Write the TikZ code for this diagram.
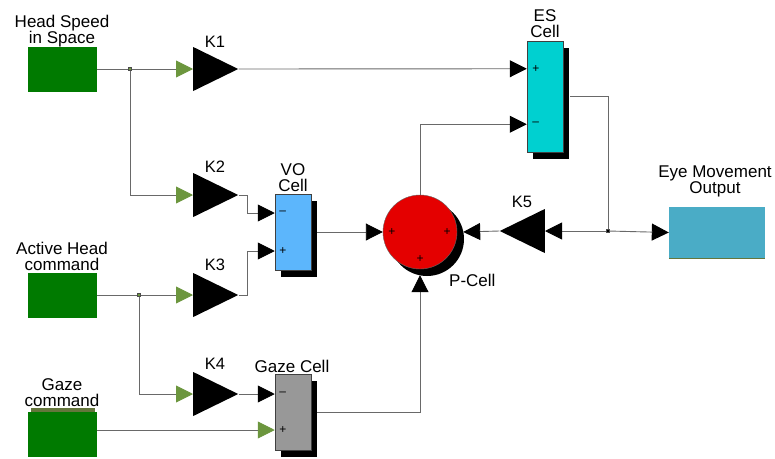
\documentclass[tikz,border=0pt]{standalone}
\usepackage{fontspec}
\setmainfont{Liberation Sans}
\usetikzlibrary{arrows.meta,shapes.geometric,shadows}

\definecolor{srcgreen}{RGB}{0,122,0}
\definecolor{portgreen}{RGB}{108,150,62}
\definecolor{stripolive}{RGB}{100,118,60}
\definecolor{voblue}{RGB}{92,182,252}
\definecolor{escyan}{RGB}{0,208,208}
\definecolor{eyeblue}{RGB}{74,172,198}
\definecolor{pred}{RGB}{228,0,0}
\definecolor{gazegray}{RGB}{152,152,152}
\definecolor{wiregray}{RGB}{105,105,105}

\begin{document}
\begin{tikzpicture}[x=1pt, y=-1pt,
    lbl/.style={font=\fontsize{17}{16}\selectfont, align=center, inner sep=0pt},
    klbl/.style={font=\fontsize{16.5}{16}\selectfont, inner sep=0pt},
    sgn/.style={font=\fontsize{12}{12}\selectfont, inner sep=0pt},
    src/.style={fill=srcgreen, minimum width=69pt, minimum height=45pt, inner sep=0pt},
    cell/.style={draw=black!75, line width=0.5pt, minimum width=36pt, inner sep=0pt,
      drop shadow={shadow xshift=6pt, shadow yshift=-7pt, opacity=1, fill=black}},
    gain/.style={isosceles triangle, isosceles triangle stretches, fill=black,
      minimum width=44pt, minimum height=45pt, inner sep=0pt},
    dot/.style={draw=black!70, fill=#1, minimum size=3pt, inner sep=0pt},
    wire/.style={draw=wiregray, line width=0.9pt},
    arr/.style={wire, -{Triangle[length=17pt, width=17pt, color=black]}},
    garr/.style={wire, -{Triangle[length=17pt, width=17pt, color=portgreen]}}]
  \useasboundingbox (0,0) rectangle (775,458);

  % sources
  \node[src] (hss) at (62.5,69) {};
  \node[src] (ahc) at (62.5,295) {};
  \fill[stripolive] (31,408) rectangle (95,412);
  \node[src] (gzc) at (62.5,434) {};
  \node[lbl, anchor=south] (hsslbl) at (62,47.5) {Head Speed\\in Space};
  \node[lbl, anchor=south] (ahclbl) at (62,270.5) {Active Head\\command};
  \node[lbl, anchor=south] (gzclbl) at (62,406.5) {Gaze\\command};

  % gains
  \node[gain, anchor=west] (k1) at (193,69) {};
  \node[gain, anchor=west] (k2) at (193,195) {};
  \node[gain, anchor=west] (k3) at (193,295) {};
  \node[gain, anchor=west] (k4) at (193,394) {};
  \node[gain, shape border rotate=180, anchor=east] (k5) at (545,231) {};
  \node[klbl, anchor=base] (k1lbl) at (215,47.5) {K1};
  \node[klbl, anchor=base] (k2lbl) at (215,172) {K2};
  \node[klbl, anchor=base] (k3lbl) at (215,270) {K3};
  \node[klbl, anchor=base] (k4lbl) at (215,369) {K4};
  \node[klbl, anchor=base] (k5lbl) at (522,207.5) {K5};

  % cells
  \node[cell, fill=voblue, minimum height=76pt] (vo) at (293,232) {};
  \node[cell, fill=gazegray, minimum height=76pt] (gz) at (293,412) {};
  \node[cell, fill=escyan, minimum height=111pt] (es) at (545,96.5) {};
  \node[circle, draw=black!60, line width=0.4pt, fill=pred, minimum size=74pt, inner sep=0pt,
    drop shadow={shadow xshift=7pt, shadow yshift=-7pt, opacity=1, fill=black}] (pc) at (420,232) {};
  \node[fill=eyeblue, minimum width=96pt, minimum height=51pt, inner sep=0pt] (eye) at (717,232.5) {};
  \draw[stripolive, line width=1pt] (eye.south west) -- (eye.south east);
  \node[lbl, anchor=south] (volbl) at (293,191.5) {VO\\Cell};
  \node[lbl, anchor=south] (eslbl) at (545,37.5) {ES\\Cell};
  \node[lbl, anchor=base] (gzlbl) at (292,372) {Gaze Cell};
  \node[lbl, anchor=base west] (pclbl) at (449,286) {P-Cell};
  \node[lbl, anchor=south] (eyelbl) at (715,197) {Eye Movement\\Output};

  % port signs
  \node[sgn] at ([xshift=8pt, yshift=19pt]vo.west) {–};
  \node[sgn] at ([xshift=8pt, yshift=-19pt]vo.west) {+};
  \node[sgn] at ([xshift=8pt, yshift=18pt]gz.west) {–};
  \node[sgn] at ([xshift=8pt, yshift=-18pt]gz.west) {+};
  \node[sgn] at ([xshift=9pt, yshift=27.75pt]es.west) {+};
  \node[sgn] at ([xshift=9pt, yshift=-27.75pt]es.west) {–};
  \node[sgn] at ([xshift=9pt]pc.west) {+};
  \node[sgn] at ([xshift=-10pt]pc.east) {+};
  \node[sgn] at ([yshift=10pt]pc.south) {+};

  % branch points
  \node[dot=portgreen] (j1) at (130,69) {};
  \node[dot=portgreen] (j2) at (139,295) {};
  \node[dot=black] (j3) at (608,231) {};

  \draw[wire] (hss.east) -- (j1);
  \draw[garr] (j1) -- (k1.west);
  \draw[garr] (j1) |- (k2.west);
  \draw[wire] (ahc.east) -- (j2);
  \draw[garr] (j2) -- (k3.west);
  \draw[garr] (j2) |- (k4.west);
  \draw[garr] ([yshift=4pt]gzc.east) -- ([yshift=-18pt]gz.west);
  \draw[arr] (k1.apex) -- ([yshift=27.75pt]es.west);
  \draw[arr] (k2.apex) -- ++(9,0) |- ([yshift=19pt]vo.west);
  \draw[arr] (k3.apex) -- ++(9,0) |- ([yshift=-19pt]vo.west);
  \draw[arr] (k4.apex) -- ([yshift=18pt]gz.west);
  \draw[arr] ([xshift=6pt]vo.east) -- (pc.west);
  \draw[arr] ([xshift=6pt]gz.east) -| ([yshift=-6pt]pc.south);
  \draw[arr] (pc.north) |- ([yshift=-27.75pt]es.west);
  \draw[wire] ([xshift=7pt]es.east) -| (j3);
  \draw[arr] (j3) -- (eye.west);
  \draw[arr] (j3) -- (k5.east);
  \draw[arr] (k5.apex) -- ([xshift=6pt]pc.east);
\end{tikzpicture}
\end{document}
